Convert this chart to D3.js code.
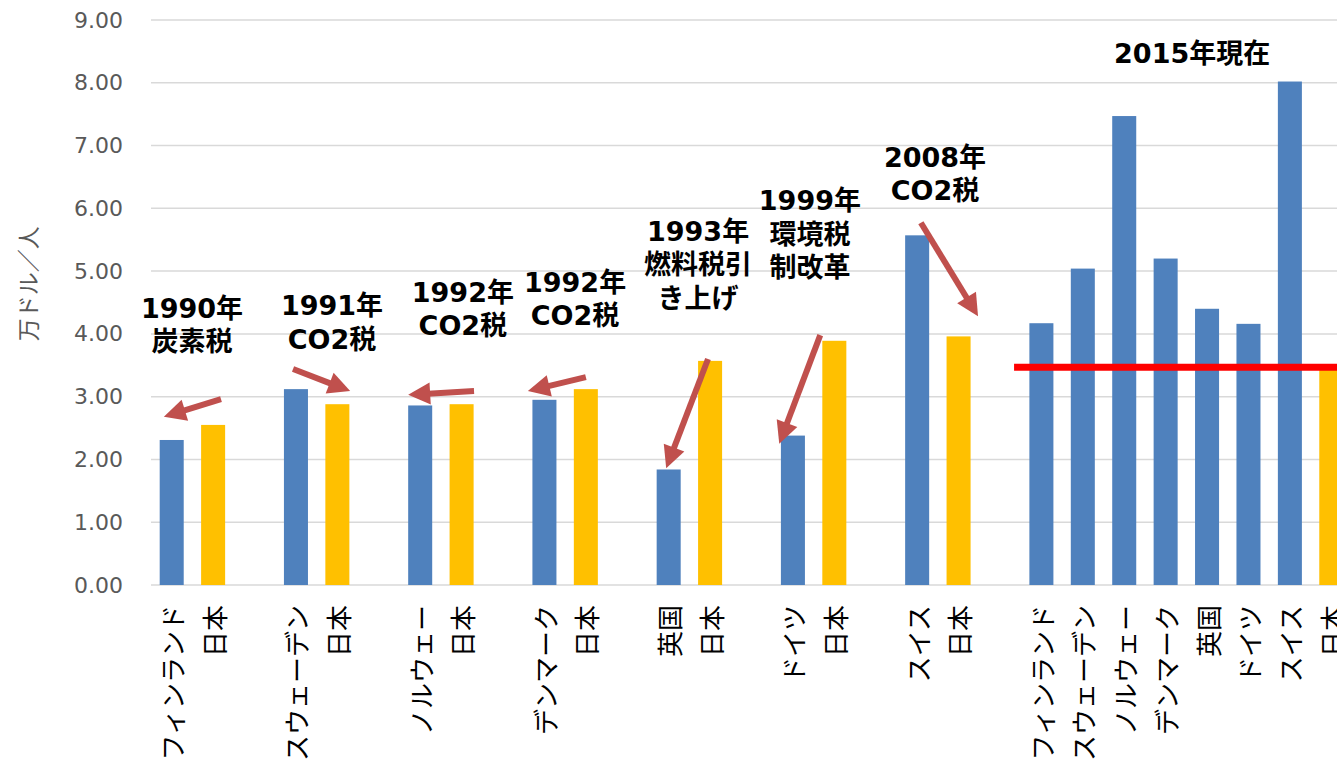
<!DOCTYPE html>
<html>
<head>
<meta charset="utf-8">
<script src="https://cdn.jsdelivr.net/npm/d3@7"></script>
<style>
  body { margin: 0; background: #fff; overflow: hidden; }
  svg { display: block; }
</style>
</head>
<body>
<div id="chart"></div>
<script>
// chart data, "" marks an empty slot between groups
var labels = ["フィンランド", "日本", "", "スウェーデン", "日本", "", "ノルウェー", "日本", "",
              "デンマーク", "日本", "", "英国", "日本", "", "ドイツ", "日本", "", "スイス", "日本", "",
              "フィンランド", "スウェーデン", "ノルウェー", "デンマーク", "英国", "ドイツ", "スイス", "日本"];
var values = [2.31, 2.55, null, 3.12, 2.88, null, 2.86, 2.88, null,
              2.95, 3.12, null, 1.84, 3.57, null, 2.38, 3.89, null, 5.57, 3.96, null,
              4.17, 5.04, 7.47, 5.20, 4.40, 4.16, 8.02, 3.45];
var yTicks = [0, 1, 2, 3, 4, 5, 6, 7, 8, 9];
var yTitle = "万ドル／人";

// annotation texts: slot = position along the category axis, value = y of first line
var noteText = [["1990年", "炭素税"], ["1991年", "CO2税"], ["1992年", "CO2税"], ["1992年", "CO2税"],
                ["1993年", "燃料税引", "き上げ"], ["1999年", "環境税", "制改革"], ["2008年", "CO2税"], ["2015年現在"]];
var noteSlot = [0.99, 4.37, 7.53, 10.24, 13.21, 15.91, 18.93, 25.14];
var noteValue = [4.42, 4.46, 4.67, 4.83, 5.64, 6.13, 6.82, 8.47];

// arrows: [tail slot, tail value, tip slot, tip value]
var arrows = [[1.69, 2.96, 0.31, 2.68], [3.43, 3.44, 4.81, 3.09], [7.80, 3.09, 6.21, 3.03],
              [10.50, 3.31, 9.10, 3.09], [13.45, 3.60, 12.44, 1.86], [16.16, 3.98, 15.17, 2.25],
              [18.59, 5.77, 19.97, 4.28]];

// red reference line (Japan 2015)
var refLine = {from: 20.84, to: 29, value: 3.47};

var width = 1337, height = 763;
var margin = {left: 151, top: 20, bottom: 178};
var plotRight = 1352;

var svg = d3.select("#chart").append("svg")
    .attr("width", width)
    .attr("height", height);

var x = d3.scaleBand()
    .domain(d3.range(labels.length))
    .range([margin.left, plotRight])
    .paddingInner(0.42)
    .paddingOuter(0.21);

var slotX = d3.scaleLinear()
    .domain([0, labels.length])
    .range([margin.left, plotRight]);

var y = d3.scaleLinear()
    .domain([0, 9])
    .range([height - margin.bottom, margin.top]);

// gridlines
svg.append("g")
    .selectAll("line")
    .data(yTicks)
    .enter().append("line")
    .attr("x1", margin.left)
    .attr("x2", plotRight)
    .attr("y1", d => y(d))
    .attr("y2", d => y(d))
    .attr("stroke", "#d9d9d9")
    .attr("stroke-width", 1.5);

// y axis labels
var yAxis = svg.append("g")
    .attr("transform", "translate(" + (margin.left - 28) + ",0)")
    .call(d3.axisLeft(y).tickValues(yTicks).tickFormat(d3.format(".2f")).tickSize(0).tickPadding(0));
yAxis.select(".domain").remove();
yAxis.selectAll("text")
    .attr("fill", "#595959")
    .style("font-family", "'DejaVu Sans', Verdana, sans-serif")
    .style("font-size", "22px");

svg.append("text")
    .attr("transform", "translate(27," + y(4.8) + ") rotate(-90)")
    .attr("text-anchor", "middle")
    .attr("dominant-baseline", "central")
    .attr("fill", "#595959")
    .style("font-family", "'Noto Sans CJK JP', sans-serif")
    .style("font-size", "23px")
    .text(yTitle);

// bars
svg.append("g")
    .selectAll("rect")
    .data(values.map((v, i) => ({i: i, v: v, label: labels[i]})).filter(d => d.v !== null))
    .enter().append("rect")
    .attr("x", d => x(d.i))
    .attr("width", x.bandwidth())
    .attr("y", d => y(d.v))
    .attr("height", d => y(0) - y(d.v))
    .attr("fill", d => d.label === "日本" ? "#ffc000" : "#4f81bd");

// category labels, rotated -90 and hanging from the axis
svg.append("g")
    .selectAll("text")
    .data(labels.map((l, i) => ({i: i, label: l})).filter(d => d.label !== ""))
    .enter().append("text")
    .attr("transform", d => "translate(" + (x(d.i) + x.bandwidth() / 2) + "," + (y(0) + 20) + ") rotate(-90)")
    .attr("text-anchor", "end")
    .attr("dominant-baseline", "central")
    .style("font-family", "'Noto Sans CJK JP', sans-serif")
    .style("font-size", "26px")
    .attr("fill", "#000")
    .text(d => d.label);

// red reference line
svg.append("line")
    .attr("x1", slotX(refLine.from))
    .attr("x2", slotX(refLine.to))
    .attr("y1", y(refLine.value))
    .attr("y2", y(refLine.value))
    .attr("stroke", "#ff0000")
    .attr("stroke-width", 7);

// arrows
var arrowColor = "#c0504d";
var headLen = 22, headHalf = 11;
var ag = svg.append("g");
arrows.forEach(function(a) {
    var x1 = slotX(a[0]), y1 = y(a[1]), x2 = slotX(a[2]), y2 = y(a[3]);
    var dx = x2 - x1, dy = y2 - y1, len = Math.sqrt(dx * dx + dy * dy);
    var ux = dx / len, uy = dy / len;
    var bx = x2 - ux * headLen, by = y2 - uy * headLen;
    ag.append("line")
        .attr("x1", x1).attr("y1", y1)
        .attr("x2", bx + ux * 2).attr("y2", by + uy * 2)
        .attr("stroke", arrowColor)
        .attr("stroke-width", 6);
    ag.append("polygon")
        .attr("points", [[x2, y2], [bx - uy * headHalf, by + ux * headHalf], [bx + uy * headHalf, by - ux * headHalf]].join(" "))
        .attr("fill", arrowColor);
});

// annotation texts
var ng = svg.append("g");
noteText.forEach(function(lines, k) {
    var t = ng.append("text")
        .attr("text-anchor", "middle")
        .attr("dominant-baseline", "central")
        .style("font-family", "'DejaVu Sans', 'Noto Sans CJK JP', sans-serif")
        .style("font-weight", "700")
        .style("font-size", "27px")
        .attr("fill", "#000");
    lines.forEach(function(line, j) {
        t.append("tspan")
            .attr("x", slotX(noteSlot[k]))
            .attr("y", y(noteValue[k]) + j * 33.5)
            .text(line);
    });
});
</script>
</body>
</html>
